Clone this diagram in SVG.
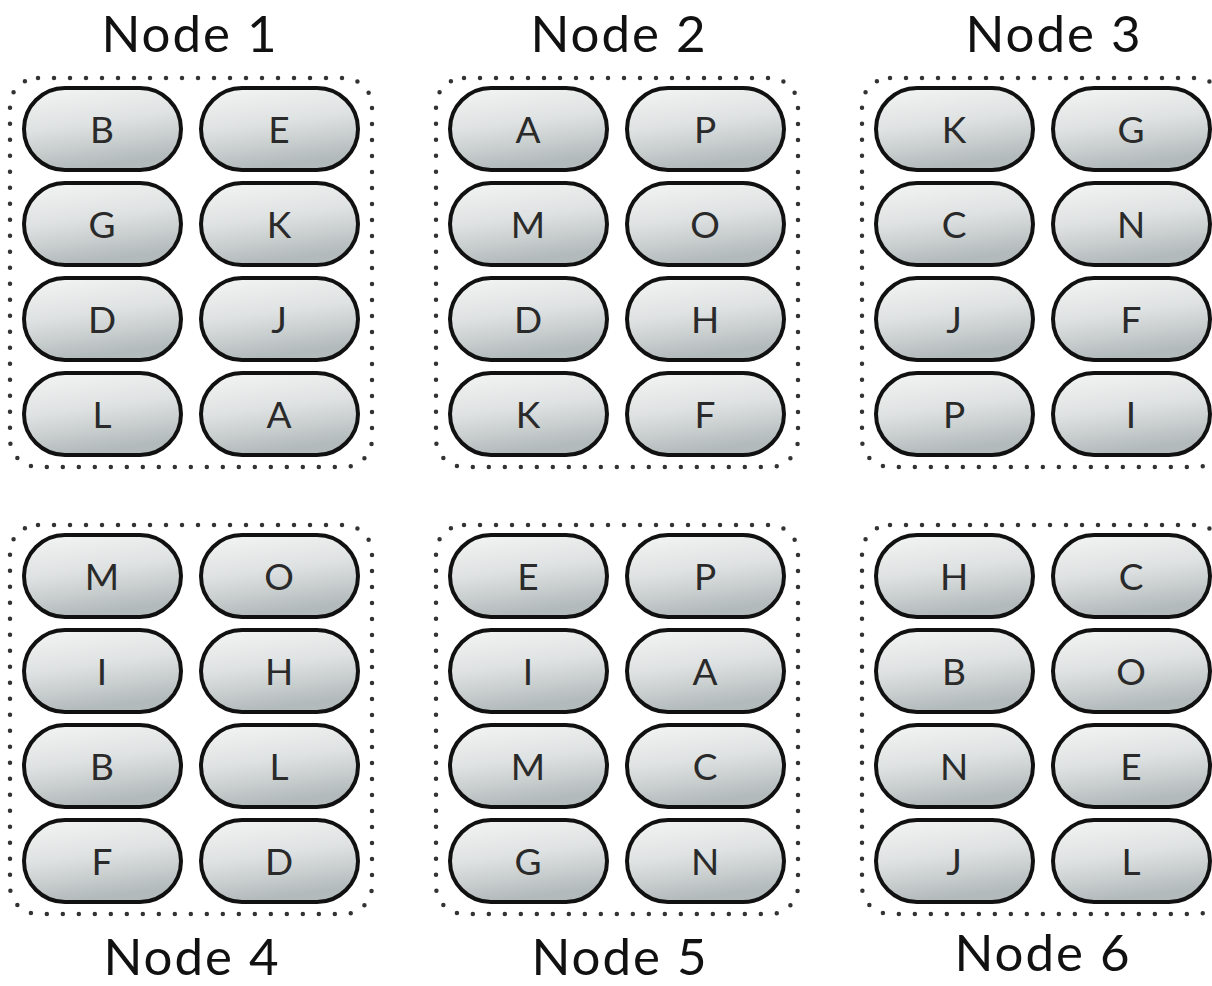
<svg xmlns="http://www.w3.org/2000/svg" width="1212" height="986" viewBox="0 0 1212 986">
<defs>
<linearGradient id="pg" x1="0" y1="0" x2="0.25" y2="1">
<stop offset="0" stop-color="#f4f5f5"/>
<stop offset="0.5" stop-color="#dfe2e2"/>
<stop offset="1" stop-color="#b3babb"/>
</linearGradient>
</defs>
<style>
.box{fill:none;stroke:#333;stroke-width:4.5;stroke-dasharray:0 16;stroke-linecap:round}
.pill{fill:url(#pg);stroke:#111;stroke-width:4}
.pt{font-family:Lato,"Open Sans",sans-serif;font-size:37px;fill:#2a2a2a;text-anchor:middle}
.lbl{font-family:Lato,"Open Sans",sans-serif;font-size:51px;fill:#111;text-anchor:middle;letter-spacing:2px}
</style>
<rect width="1212" height="986" fill="#fff"/>
<g id="connectors"/>
<g id="node1">
<text class="lbl" x="190" y="52">Node 1</text>
<rect class="box" x="10" y="78" width="362" height="389" rx="28"/>
<rect class="pill" x="24" y="88" width="157" height="82" rx="41"/><text class="pt" x="102" y="143">B</text>
<rect class="pill" x="201" y="88" width="157" height="82" rx="41"/><text class="pt" x="279" y="143">E</text>
<rect class="pill" x="24" y="183" width="157" height="82" rx="41"/><text class="pt" x="102" y="238">G</text>
<rect class="pill" x="201" y="183" width="157" height="82" rx="41"/><text class="pt" x="279" y="238">K</text>
<rect class="pill" x="24" y="278" width="157" height="82" rx="41"/><text class="pt" x="102" y="333">D</text>
<rect class="pill" x="201" y="278" width="157" height="82" rx="41"/><text class="pt" x="279" y="333">J</text>
<rect class="pill" x="24" y="373" width="157" height="82" rx="41"/><text class="pt" x="102" y="428">L</text>
<rect class="pill" x="201" y="373" width="157" height="82" rx="41"/><text class="pt" x="279" y="428">A</text>
</g>
<g id="node2">
<text class="lbl" x="619" y="52">Node 2</text>
<rect class="box" x="436" y="78" width="362" height="389" rx="28"/>
<rect class="pill" x="450" y="88" width="157" height="82" rx="41"/><text class="pt" x="528" y="143">A</text>
<rect class="pill" x="627" y="88" width="157" height="82" rx="41"/><text class="pt" x="705" y="143">P</text>
<rect class="pill" x="450" y="183" width="157" height="82" rx="41"/><text class="pt" x="528" y="238">M</text>
<rect class="pill" x="627" y="183" width="157" height="82" rx="41"/><text class="pt" x="705" y="238">O</text>
<rect class="pill" x="450" y="278" width="157" height="82" rx="41"/><text class="pt" x="528" y="333">D</text>
<rect class="pill" x="627" y="278" width="157" height="82" rx="41"/><text class="pt" x="705" y="333">H</text>
<rect class="pill" x="450" y="373" width="157" height="82" rx="41"/><text class="pt" x="528" y="428">K</text>
<rect class="pill" x="627" y="373" width="157" height="82" rx="41"/><text class="pt" x="705" y="428">F</text>
</g>
<g id="node3">
<text class="lbl" x="1054" y="52">Node 3</text>
<rect class="box" x="862" y="78" width="362" height="389" rx="28"/>
<rect class="pill" x="876" y="88" width="157" height="82" rx="41"/><text class="pt" x="954" y="143">K</text>
<rect class="pill" x="1053" y="88" width="157" height="82" rx="41"/><text class="pt" x="1131" y="143">G</text>
<rect class="pill" x="876" y="183" width="157" height="82" rx="41"/><text class="pt" x="954" y="238">C</text>
<rect class="pill" x="1053" y="183" width="157" height="82" rx="41"/><text class="pt" x="1131" y="238">N</text>
<rect class="pill" x="876" y="278" width="157" height="82" rx="41"/><text class="pt" x="954" y="333">J</text>
<rect class="pill" x="1053" y="278" width="157" height="82" rx="41"/><text class="pt" x="1131" y="333">F</text>
<rect class="pill" x="876" y="373" width="157" height="82" rx="41"/><text class="pt" x="954" y="428">P</text>
<rect class="pill" x="1053" y="373" width="157" height="82" rx="41"/><text class="pt" x="1131" y="428">I</text>
</g>
<g id="node4">
<rect class="box" x="10" y="525" width="362" height="389" rx="28"/>
<rect class="pill" x="24" y="535" width="157" height="82" rx="41"/><text class="pt" x="102" y="590">M</text>
<rect class="pill" x="201" y="535" width="157" height="82" rx="41"/><text class="pt" x="279" y="590">O</text>
<rect class="pill" x="24" y="630" width="157" height="82" rx="41"/><text class="pt" x="102" y="685">I</text>
<rect class="pill" x="201" y="630" width="157" height="82" rx="41"/><text class="pt" x="279" y="685">H</text>
<rect class="pill" x="24" y="725" width="157" height="82" rx="41"/><text class="pt" x="102" y="780">B</text>
<rect class="pill" x="201" y="725" width="157" height="82" rx="41"/><text class="pt" x="279" y="780">L</text>
<rect class="pill" x="24" y="820" width="157" height="82" rx="41"/><text class="pt" x="102" y="875">F</text>
<rect class="pill" x="201" y="820" width="157" height="82" rx="41"/><text class="pt" x="279" y="875">D</text>
<text class="lbl" x="192" y="975">Node 4</text>
</g>
<g id="node5">
<rect class="box" x="436" y="525" width="362" height="389" rx="28"/>
<rect class="pill" x="450" y="535" width="157" height="82" rx="41"/><text class="pt" x="528" y="590">E</text>
<rect class="pill" x="627" y="535" width="157" height="82" rx="41"/><text class="pt" x="705" y="590">P</text>
<rect class="pill" x="450" y="630" width="157" height="82" rx="41"/><text class="pt" x="528" y="685">I</text>
<rect class="pill" x="627" y="630" width="157" height="82" rx="41"/><text class="pt" x="705" y="685">A</text>
<rect class="pill" x="450" y="725" width="157" height="82" rx="41"/><text class="pt" x="528" y="780">M</text>
<rect class="pill" x="627" y="725" width="157" height="82" rx="41"/><text class="pt" x="705" y="780">C</text>
<rect class="pill" x="450" y="820" width="157" height="82" rx="41"/><text class="pt" x="528" y="875">G</text>
<rect class="pill" x="627" y="820" width="157" height="82" rx="41"/><text class="pt" x="705" y="875">N</text>
<text class="lbl" x="620" y="975">Node 5</text>
</g>
<g id="node6">
<rect class="box" x="862" y="525" width="362" height="389" rx="28"/>
<rect class="pill" x="876" y="535" width="157" height="82" rx="41"/><text class="pt" x="954" y="590">H</text>
<rect class="pill" x="1053" y="535" width="157" height="82" rx="41"/><text class="pt" x="1131" y="590">C</text>
<rect class="pill" x="876" y="630" width="157" height="82" rx="41"/><text class="pt" x="954" y="685">B</text>
<rect class="pill" x="1053" y="630" width="157" height="82" rx="41"/><text class="pt" x="1131" y="685">O</text>
<rect class="pill" x="876" y="725" width="157" height="82" rx="41"/><text class="pt" x="954" y="780">N</text>
<rect class="pill" x="1053" y="725" width="157" height="82" rx="41"/><text class="pt" x="1131" y="780">E</text>
<rect class="pill" x="876" y="820" width="157" height="82" rx="41"/><text class="pt" x="954" y="875">J</text>
<rect class="pill" x="1053" y="820" width="157" height="82" rx="41"/><text class="pt" x="1131" y="875">L</text>
<text class="lbl" x="1043" y="971">Node 6</text>
</g>
</svg>
